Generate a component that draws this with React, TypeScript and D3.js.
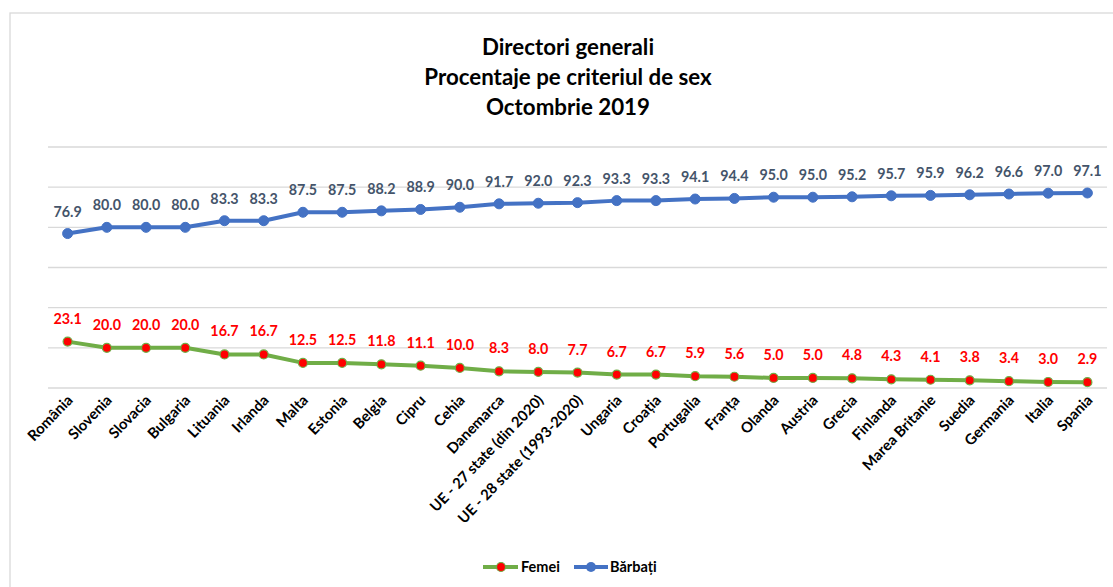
import React from "react";
import * as d3 from "d3";

const categories = [
  "România", "Slovenia", "Slovacia", "Bulgaria", "Lituania", "Irlanda", "Malta", "Estonia",
  "Belgia", "Cipru", "Cehia", "Danemarca", "UE - 27 state (din 2020)", "UE - 28 state (1993-2020)",
  "Ungaria", "Croația", "Portugalia", "Franța", "Olanda", "Austria", "Grecia", "Finlanda",
  "Marea Britanie", "Suedia", "Germania", "Italia", "Spania",
];
const femei = [23.1, 20.0, 20.0, 20.0, 16.7, 16.7, 12.5, 12.5, 11.8, 11.1, 10.0, 8.3, 8.0, 7.7, 6.7, 6.7, 5.9, 5.6, 5.0, 5.0, 4.8, 4.3, 4.1, 3.8, 3.4, 3.0, 2.9];
const barbati = [76.9, 80.0, 80.0, 80.0, 83.3, 83.3, 87.5, 87.5, 88.2, 88.9, 90.0, 91.7, 92.0, 92.3, 93.3, 93.3, 94.1, 94.4, 95.0, 95.0, 95.2, 95.7, 95.9, 96.2, 96.6, 97.0, 97.1];
const yTicks = [0, 20, 40, 60, 80, 100, 120];
const titleLines = ["Directori generali", "Procentaje pe criteriul de sex", "Octombrie 2019"];

const W = 1113, H = 587;
const FONT = "Lato, 'Open Sans', sans-serif";
const BLUE = "#4472C4", GREEN = "#70AD47", RED = "#FF0000", LABEL_BLUE = "#44546A";

export default function App() {
  const x = d3.scaleBand<string>().domain(categories).range([48, 1107]);
  const y = d3.scaleLinear().domain([0, 120]).range([388, 147]);
  const cx = (c: string) => (x(c) as number) + x.bandwidth() / 2;
  const line = d3.line<number>().x((_, i) => cx(categories[i])).y((d) => y(d));

  return (
    <svg width={W} height={H} style={{ position: "absolute", left: 0, top: 0, background: "#fff" }} fontFamily={FONT}>
      <rect x={10} y={13} width={W + 20} height={H + 20} fill="#fff" stroke="#d9d9d9" strokeWidth={1.3} />
      {titleLines.map((t, i) => (
        <text key={t} x={568} y={55 + i * 30} textAnchor="middle" fontSize={22.3} fontWeight="bold" fill="#000">{t}</text>
      ))}
      {yTicks.map((t) => (
        <line key={t} x1={48} x2={1107} y1={y(t)} y2={y(t)} stroke="#d9d9d9" strokeWidth={1.3} />
      ))}
      <path d={line(barbati) || ""} fill="none" stroke={BLUE} strokeWidth={4} strokeLinejoin="round" />
      <path d={line(femei) || ""} fill="none" stroke={GREEN} strokeWidth={4} strokeLinejoin="round" />
      {barbati.map((v, i) => (
        <g key={"b" + i}>
          <circle cx={cx(categories[i])} cy={y(v)} r={5} fill={BLUE} stroke={BLUE} strokeWidth={1} />
          <text x={cx(categories[i])} y={y(v) - 17} textAnchor="middle" fontSize={14.3} fontWeight="bold" fill={LABEL_BLUE}>{v.toFixed(1)}</text>
        </g>
      ))}
      {femei.map((v, i) => (
        <g key={"f" + i}>
          <circle cx={cx(categories[i])} cy={y(v)} r={4.5} fill={RED} stroke={GREEN} strokeWidth={1.2} />
          <text x={cx(categories[i])} y={y(v) - 18} textAnchor="middle" fontSize={14.3} fontWeight="bold" fill={RED}>{v.toFixed(1)}</text>
        </g>
      ))}
      {categories.map((c) => (
        <text key={c} transform={`translate(${cx(c) + 6},${401}) rotate(-46)`} textAnchor="end" fontSize={14.8} fontWeight="bold" fill="#000">{c}</text>
      ))}
      <g>
        <line x1={483} x2={518} y1={567} y2={567} stroke={GREEN} strokeWidth={4} />
        <circle cx={501} cy={567} r={4.5} fill={RED} stroke={GREEN} strokeWidth={1.2} />
        <text x={521} y={572} fontSize={14.5} fontWeight="bold" fill="#000">Femei</text>
        <line x1={574} x2={608} y1={567} y2={567} stroke={BLUE} strokeWidth={4} />
        <circle cx={591} cy={567} r={5} fill={BLUE} />
        <text x={610} y={572} fontSize={14.5} fontWeight="bold" fill="#000">Bărbați</text>
      </g>
    </svg>
  );
}
